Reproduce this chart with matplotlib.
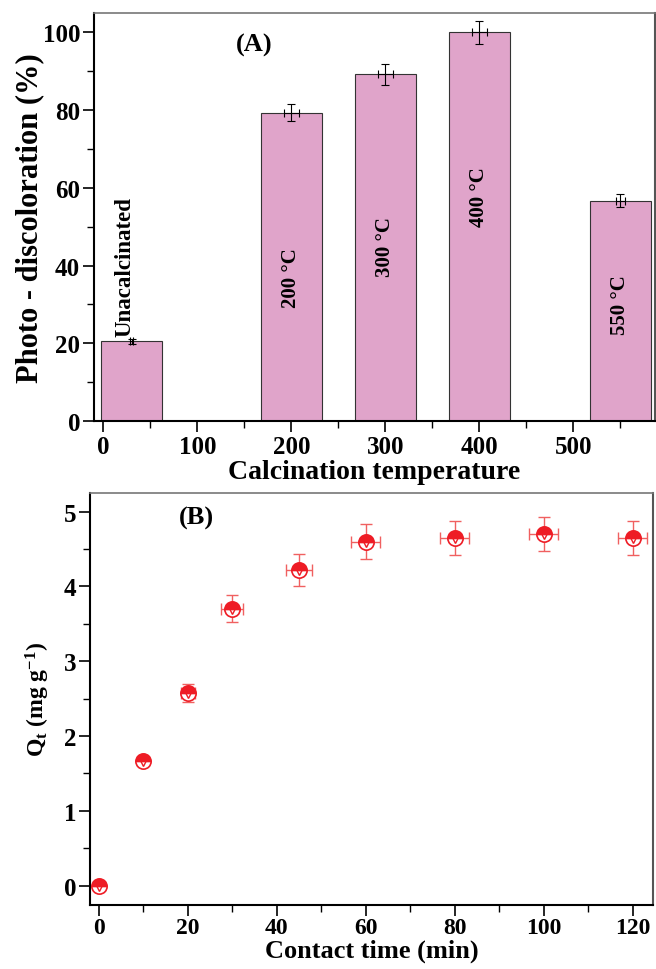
import matplotlib
matplotlib.use("Agg")
import matplotlib.pyplot as plt
from matplotlib.ticker import MultipleLocator

plt.rcParams['font.family'] = ['Liberation Serif', 'DejaVu Serif']
plt.rcParams['font.weight'] = 'bold'
plt.rcParams['mathtext.default'] = 'regular'

# panel A data
temps = [30, 200, 300, 400, 550]
discol = [20.5, 79.3, 89.2, 100.0, 56.7]
discol_err = [0.6, 2.2, 2.7, 3.0, 1.7]
temp_err = [2, 8, 8, 8, 5]
bar_labels = ['Unacalcinated', '200 °C', '300 °C', '400 °C', '550 °C']
label_x = [23, 200, 300, 400, 550]
label_y = [40, 37, 45, 58, 30]
label_size = [16.5, 15, 15, 15, 15]

# panel B data
time_min = [0, 10, 20, 30, 45, 60, 80, 100, 120]
qt = [0.0, 1.66, 2.57, 3.70, 4.22, 4.60, 4.65, 4.70, 4.65]
qt_err = [0.0, 0.05, 0.12, 0.18, 0.21, 0.23, 0.23, 0.23, 0.23]
time_err = [0, 0, 1.5, 2.5, 3.0, 3.3, 3.3, 3.3, 3.3]

W, H = 656, 970
fig = plt.figure(figsize=(W / 100, H / 100), dpi=100)
axA = fig.add_axes([94 / W, 1 - 422 / H, (655 - 94) / W, (422 - 14) / H])
axB = fig.add_axes([90 / W, 1 - 906 / H, (653 - 90) / W, (906 - 494) / H])

pink = '#E0A4CA'
axA.bar(temps, discol, width=65, color=pink, edgecolor='#333333', linewidth=0.8, zorder=2)
axA.errorbar(temps, discol, yerr=discol_err, xerr=temp_err, fmt='none',
             ecolor='black', elinewidth=0.8, capsize=3, capthick=0.8, zorder=3)
for x, y, lab, fs in zip(label_x, label_y, bar_labels, label_size):
    axA.text(x, y, lab, rotation=90, ha='center', va='center',
             fontsize=fs, fontweight='bold')
axA.text(160, 97, '(A)', fontsize=19, fontweight='bold', ha='center', va='center')
axA.set_xlim(-10, 587)
axA.set_ylim(0, 105)
axA.xaxis.set_major_locator(MultipleLocator(100))
axA.xaxis.set_minor_locator(MultipleLocator(50))
axA.yaxis.set_major_locator(MultipleLocator(20))
axA.yaxis.set_minor_locator(MultipleLocator(10))
axA.set_xlabel('Calcination temperature', fontsize=20, fontweight='bold', labelpad=1)
axA.set_ylabel('Photo - discoloration (%)', fontsize=22, fontweight='bold', labelpad=-1)

red = '#EE1C25'
axB.errorbar(time_min, qt, yerr=qt_err, xerr=time_err, fmt='none',
             ecolor='#F06060', elinewidth=1.0, capsize=4, capthick=1.0, zorder=2)
axB.plot(time_min, qt, 'o', ms=11, color=red, fillstyle='top',
         markerfacecoloralt='white', markeredgecolor=red, markeredgewidth=1.2, zorder=3)
axB.plot(time_min, qt, 'v', ms=7, markerfacecolor='none', markeredgecolor=red,
         markeredgewidth=1.0, zorder=4)
axB.text(22, 4.92, '(B)', fontsize=19, fontweight='bold', ha='center', va='center')
axB.set_xlim(-2, 124.6)
axB.set_ylim(-0.26, 5.25)
axB.xaxis.set_major_locator(MultipleLocator(20))
axB.xaxis.set_minor_locator(MultipleLocator(10))
axB.yaxis.set_major_locator(MultipleLocator(1))
axB.yaxis.set_minor_locator(MultipleLocator(0.5))
axB.set_xlabel('Contact time (min)', fontsize=19, fontweight='bold', labelpad=0)
axB.set_ylabel('Q$_t$ (mg g$^{-1}$)', fontsize=17, fontweight='bold', labelpad=8)

for ax in (axA, axB):
    ax.tick_params(which='major', direction='out', length=8, width=1.2,
                   labelsize=18, pad=2)
    ax.tick_params(which='minor', direction='out', length=5, width=1.0)
    for lab in ax.get_xticklabels() + ax.get_yticklabels():
        lab.set_fontweight('bold')
    ax.spines['left'].set_linewidth(1.5)
    ax.spines['bottom'].set_linewidth(1.5)
    ax.spines['top'].set_color('#777777')
    ax.spines['right'].set_color('#555555')
    ax.spines['top'].set_linewidth(1.2)
    ax.spines['right'].set_linewidth(1.5)
axB.tick_params(axis='x', which='major', labelsize=17, pad=1)

fig.savefig('out.png', dpi=100)
